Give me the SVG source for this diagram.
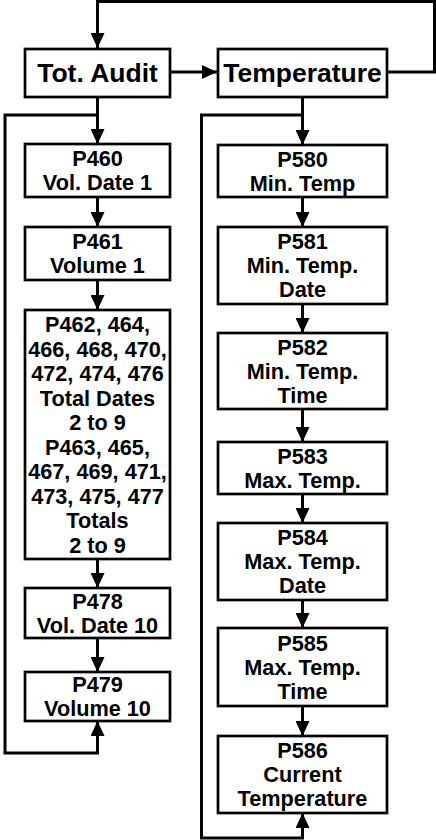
<svg xmlns="http://www.w3.org/2000/svg" width="436" height="840" viewBox="0 0 436 840">
<style>
.box{fill:#fff;stroke:#000;stroke-width:2.7}
.t{font-family:"Liberation Sans",Arial,sans-serif;font-weight:bold;font-size:21.7px;text-anchor:middle;fill:#000}
.big{font-size:26.5px}
.c{fill:none;stroke:#000;stroke-width:3}
</style>
<defs>
<marker id="ah" markerUnits="userSpaceOnUse" markerWidth="15" markerHeight="14" refX="15" refY="7" orient="auto">
<path d="M0,0 L15,7 L0,14 Z" fill="#000"/>
</marker>
</defs>
<rect width="436" height="840" fill="#fff"/>
<g id="connectors">
<polyline class="c" points="387,72 434.5,72 434.5,1.5 97.5,1.5 97.5,48" marker-end="url(#ah)"/>
<line class="c" x1="170" y1="72" x2="217" y2="72" marker-end="url(#ah)"/>
<line class="c" x1="97.5" y1="97" x2="97.5" y2="144" marker-end="url(#ah)"/>
<line class="c" x1="97.5" y1="197" x2="97.5" y2="227" marker-end="url(#ah)"/>
<line class="c" x1="97.5" y1="280" x2="97.5" y2="310" marker-end="url(#ah)"/>
<line class="c" x1="97.5" y1="559" x2="97.5" y2="588" marker-end="url(#ah)"/>
<line class="c" x1="97.5" y1="638" x2="97.5" y2="672" marker-end="url(#ah)"/>
<polyline class="c" points="97.5,115 5,115 5,753 97.5,753 97.5,721" marker-end="url(#ah)"/>
<line class="c" x1="302.5" y1="97" x2="302.5" y2="145" marker-end="url(#ah)"/>
<line class="c" x1="302.5" y1="197" x2="302.5" y2="227" marker-end="url(#ah)"/>
<line class="c" x1="302.5" y1="304" x2="302.5" y2="333" marker-end="url(#ah)"/>
<line class="c" x1="302.5" y1="409" x2="302.5" y2="442" marker-end="url(#ah)"/>
<line class="c" x1="302.5" y1="494" x2="302.5" y2="523" marker-end="url(#ah)"/>
<line class="c" x1="302.5" y1="600" x2="302.5" y2="628" marker-end="url(#ah)"/>
<line class="c" x1="302.5" y1="706" x2="302.5" y2="736" marker-end="url(#ah)"/>
<polyline class="c" points="302.5,115 201.5,115 201.5,838 302.5,838 302.5,813" marker-end="url(#ah)"/>
</g>
<g id="totaudit"><rect class="box" x="25" y="49" width="145" height="48"/><text class="t big" x="97.5" y="82">Tot. Audit</text></g>
<g id="temperature"><rect class="box" x="218" y="49" width="169" height="48"/><text class="t big" x="302.5" y="82">Temperature</text></g>
<g id="p460"><rect class="box" x="25" y="144" width="145" height="53"/><text class="t" x="97.5" y="166">P460</text><text class="t" x="97.5" y="190">Vol. Date 1</text></g>
<g id="p461"><rect class="box" x="25" y="227" width="145" height="53"/><text class="t" x="97.5" y="249">P461</text><text class="t" x="97.5" y="273">Volume 1</text></g>
<g id="p462"><rect class="box" x="25" y="310" width="145" height="249"/>
<text class="t" x="97.5" y="332">P462, 464,</text>
<text class="t" x="97.5" y="356.5">466, 468, 470,</text>
<text class="t" x="97.5" y="381">472, 474, 476</text>
<text class="t" x="97.5" y="405.5">Total Dates</text>
<text class="t" x="97.5" y="430">2 to 9</text>
<text class="t" x="97.5" y="454.5">P463, 465,</text>
<text class="t" x="97.5" y="479">467, 469, 471,</text>
<text class="t" x="97.5" y="503.5">473, 475, 477</text>
<text class="t" x="97.5" y="528">Totals</text>
<text class="t" x="97.5" y="552.5">2 to 9</text></g>
<g id="p478"><rect class="box" x="25" y="588" width="145" height="50"/><text class="t" x="97.5" y="609">P478</text><text class="t" x="97.5" y="633">Vol. Date 10</text></g>
<g id="p479"><rect class="box" x="25" y="672" width="145" height="49"/><text class="t" x="97.5" y="692">P479</text><text class="t" x="97.5" y="716">Volume 10</text></g>
<g id="p580"><rect class="box" x="218" y="145" width="169" height="52"/><text class="t" x="302.5" y="167">P580</text><text class="t" x="302.5" y="191">Min. Temp</text></g>
<g id="p581"><rect class="box" x="218" y="227" width="169" height="77"/><text class="t" x="302.5" y="249">P581</text><text class="t" x="302.5" y="273">Min. Temp.</text><text class="t" x="302.5" y="297">Date</text></g>
<g id="p582"><rect class="box" x="218" y="333" width="169" height="76"/><text class="t" x="302.5" y="354.5">P582</text><text class="t" x="302.5" y="378.5">Min. Temp.</text><text class="t" x="302.5" y="402.5">Time</text></g>
<g id="p583"><rect class="box" x="218" y="442" width="169" height="52"/><text class="t" x="302.5" y="464">P583</text><text class="t" x="302.5" y="488">Max. Temp.</text></g>
<g id="p584"><rect class="box" x="218" y="523" width="169" height="77"/><text class="t" x="302.5" y="545">P584</text><text class="t" x="302.5" y="569">Max. Temp.</text><text class="t" x="302.5" y="593">Date</text></g>
<g id="p585"><rect class="box" x="218" y="628" width="169" height="78"/><text class="t" x="302.5" y="650.5">P585</text><text class="t" x="302.5" y="674.5">Max. Temp.</text><text class="t" x="302.5" y="698.5">Time</text></g>
<g id="p586"><rect class="box" x="218" y="736" width="169" height="77"/><text class="t" x="302.5" y="758">P586</text><text class="t" x="302.5" y="782">Current</text><text class="t" x="302.5" y="806">Temperature</text></g>
</svg>
